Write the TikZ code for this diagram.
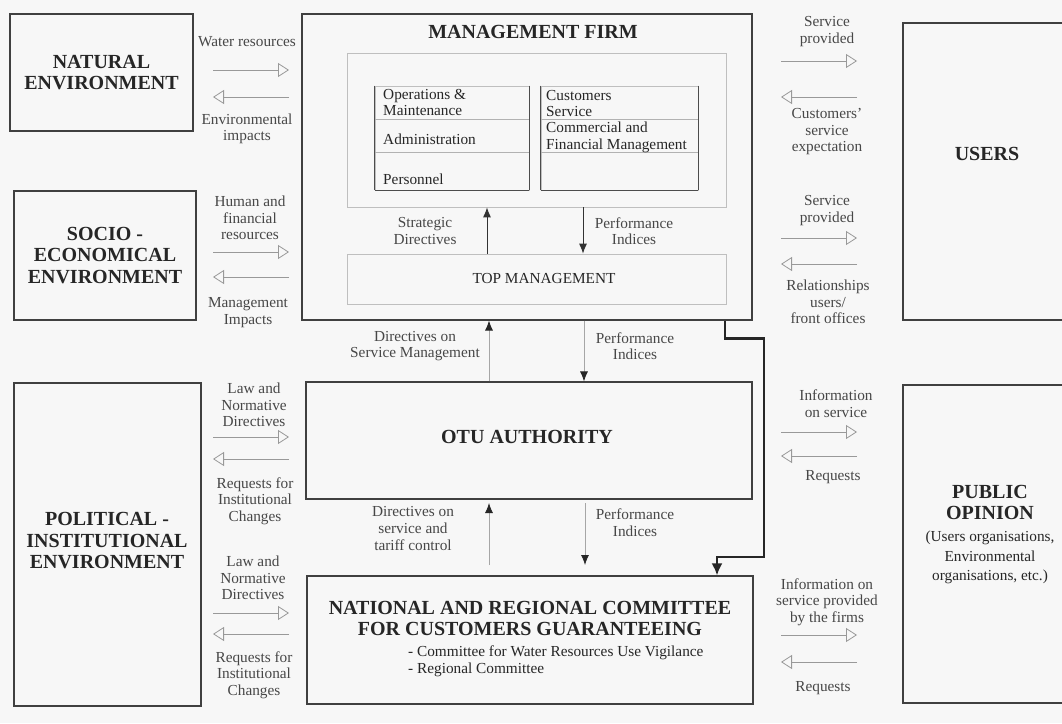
\documentclass[tikz,border=0pt]{standalone}
\usepackage{fontspec}
\setmainfont{Liberation Serif}
\usetikzlibrary{arrows.meta,calc}
\begin{document}
\begin{tikzpicture}[x=1pt,y=-1pt,
  every node/.style={text=black!85, font=\fontsize{15.3}{16.5}\selectfont},
  title/.style={font=\fontsize{20}{21.5}\selectfont\bfseries, align=center, text=black!85},
  lbl/.style={align=center, text=black!72, inner sep=0pt},
  box/.style={draw=black!75, line width=1.1pt, inner sep=0pt},
  lightbox/.style={draw=black!25, line width=0.7pt, inner sep=0pt},
  cell/.style={anchor=west, align=left, inner sep=0pt},
  flow/.style={draw=black!40, line width=0.8pt, -{Triangle[open,length=11pt,width=14pt]}},
  vdark/.style={draw=black!80, line width=1pt, -{Latex[length=10pt,width=8pt]}},
  vlight/.style={draw=black!35, line width=0.8pt, -{Latex[length=10pt,width=8pt,color=black!85]}},
  heavy/.style={draw=black!85, line width=2.6pt, -{Latex[length=12pt,width=11pt]}},
]
\fill[black!3] (0,0) rectangle (1062,723);
\useasboundingbox (0,0) rectangle (1062,723);

% ---------------- left environment boxes
\node[box, minimum width=183pt, minimum height=117pt] (nat) at (101.5,72.5) {};
\node[title] (natt) at (nat.center) {NATURAL\\ENVIRONMENT};
\node[box, minimum width=182pt, minimum height=129pt] (soc) at (105,255.5) {};
\node[title] (soct) at (soc.center) {SOCIO -\\ECONOMICAL\\ENVIRONMENT};
\node[box, minimum width=187pt, minimum height=323pt] (pol) at (107.5,544.5) {};
\node[title] (polt) at (107,541) {POLITICAL -\\INSTITUTIONAL\\ENVIRONMENT};

% ---------------- management firm
\node[box, minimum width=450pt, minimum height=306pt] (mf) at (527,167) {};
\node[title] (mft) at (533,32) {MANAGEMENT FIRM};
\node[lightbox, minimum width=379pt, minimum height=154pt] (inner) at (536.5,130) {};
\node[lightbox, minimum width=379pt, minimum height=50pt] (tm) at (536.5,279) {};
\node (tmt) at (544,279) {TOP MANAGEMENT};

% sub tables
\node[lightbox, minimum width=154pt, minimum height=104pt] (tl) at (452,138) {};
\node[lightbox, minimum width=157pt, minimum height=104pt] (tr) at (619.5,138) {};
\draw[black!70, line width=1pt] (tl.north west) -- (tl.south west) (tl.north east) -- (tl.south east)
  (tr.north west) -- (tr.south west) (tr.north east) -- (tr.south east);
\draw[black!70, line width=0.8pt] (tl.south west) -- (tl.south east) (tr.south west) -- (tr.south east);
\draw[black!30, line width=0.7pt] (375,119) -- (529,119) (375,152) -- (529,152)
  (541,119) -- (698,119) (541,152) -- (698,152);
\node[cell] (om) at (383,102.5) {Operations \&\\Maintenance};
\node[cell] (adm) at (383,139) {Administration};
\node[cell] (per) at (383,179) {Personnel};
\node[cell] (cs) at (546,103.5) {Customers\\Service};
\node[cell] (cfm) at (546,137.5) {Commercial and\\Financial Management};

\draw[vdark] ([xshift=-49.5pt]tm.north) -- ([xshift=-49.5pt]inner.south);
\draw[vdark] ([xshift=46.5pt]inner.south) -- ([xshift=46.5pt]tm.north);
\node[lbl] (sdl) at (425,231) {Strategic\\Directives};
\node[lbl] (pil) at (634,231) {Performance\\Indices};

% ---------------- OTU authority
\node[box, minimum width=446pt, minimum height=117pt] (otu) at (529,440.5) {};
\node[title] (otut) at (527,437) {OTU AUTHORITY};
\draw[vlight] ([xshift=-40pt]otu.north) -- ([xshift=-38pt]mf.south);
\draw[vlight] ([xshift=57pt]mf.south) -- ([xshift=55pt]otu.north);
\node[lbl] (dsm) at (415,346) {Directives on\\Service Management};
\node[lbl] (pi2) at (635,346) {Performance\\Indices};

% ---------------- national committee
\node[box, minimum width=446pt, minimum height=128pt] (nat2) at (530,640) {};
\node[title] (nat2t) at (530,618.5) {NATIONAL AND REGIONAL COMMITTEE\\FOR CUSTOMERS GUARANTEEING};
\node[cell, anchor=north west] (bul) at (408,646) {- Committee for Water Resources Use Vigilance\\- Regional Committee};
\coordinate (ou) at (489,565);
\coordinate (ot) at (489,503);
\draw[vlight] (ou) -- (ot);
\coordinate (od1) at (585,503);
\coordinate (od2) at (585,565);
\draw[vlight] (od1) -- (od2);
\node[lbl] (dst) at (413,528.5) {Directives on\\service and\\tariff control};
\node[lbl] (pi3) at (635,522.5) {Performance\\Indices};

% heavy connector
\coordinate (hb1) at (764,557);
\draw[heavy] ([xshift=198pt]mf.south) -- ++(0,18) -| (hb1) -| ([xshift=187pt]nat2.north);

% ---------------- right boxes (open on the right edge)
\begin{scope}
\clip (0,0) rectangle (1062,723);
\node[box, minimum width=180pt, minimum height=297pt] (users) at (993,171.5) {};
\node[box, minimum width=180pt, minimum height=318pt] (pub) at (993,544) {};
\end{scope}
\node[title] (usert) at (987,154) {USERS};
\node[title] (pubt) at (990,502.5) {PUBLIC\\OPINION};
\node[align=center, font=\fontsize{15.3}{19.5}\selectfont] (pubs) at (990,557.5) {(Users organisations,\\Environmental\\organisations, etc.)};

% ---------------- left flows
\coordinate (l1a) at (213,70);  \coordinate (l1b) at (289,70);
\coordinate (l2a) at (213,97);  \coordinate (l2b) at (289,97);
\draw[flow] (l1a) -- (l1b);
\draw[flow] (l2b) -- (l2a);
\node[lbl] (wr) at (247,42) {Water resources};
\node[lbl] (ei) at (247,129) {Environmental\\impacts};

\coordinate (l3a) at (213,252); \coordinate (l3b) at (289,252);
\coordinate (l4a) at (213,277); \coordinate (l4b) at (289,277);
\draw[flow] (l3a) -- (l3b);
\draw[flow] (l4b) -- (l4a);
\node[lbl] (hfr) at (250,218) {Human and\\financial\\resources};
\node[lbl] (mi) at (248,312.5) {Management\\Impacts};

\coordinate (l5a) at (213,437); \coordinate (l5b) at (289,437);
\coordinate (l6a) at (213,459); \coordinate (l6b) at (289,459);
\draw[flow] (l5a) -- (l5b);
\draw[flow] (l6b) -- (l6a);
\node[lbl] (lnd1) at (254,405) {Law and\\Normative\\Directives};
\node[lbl] (ric1) at (255,501) {Requests for\\Institutional\\Changes};

\coordinate (l7a) at (213,613); \coordinate (l7b) at (289,613);
\coordinate (l8a) at (213,634); \coordinate (l8b) at (289,634);
\draw[flow] (l7a) -- (l7b);
\draw[flow] (l8b) -- (l8a);
\node[lbl] (lnd2) at (253,578) {Law and\\Normative\\Directives};
\node[lbl] (ric2) at (254,675) {Requests for\\Institutional\\Changes};

% ---------------- right flows
\coordinate (r1a) at (781,61);  \coordinate (r1b) at (857,61);
\coordinate (r2a) at (781,97);  \coordinate (r2b) at (857,97);
\draw[flow] (r1a) -- (r1b);
\draw[flow] (r2b) -- (r2a);
\node[lbl] (sp1) at (827,31.5) {Service\\provided};
\node[lbl] (cse) at (827,132) {Customers'\\service\\expectation};

\coordinate (r3a) at (781,238); \coordinate (r3b) at (857,238);
\coordinate (r4a) at (781,264); \coordinate (r4b) at (857,264);
\draw[flow] (r3a) -- (r3b);
\draw[flow] (r4b) -- (r4a);
\node[lbl] (sp2) at (827,210.5) {Service\\provided};
\node[lbl] (rel) at (828,302) {Relationships\\users/\\front offices};

\coordinate (r5a) at (781,432); \coordinate (r5b) at (857,432);
\coordinate (r6a) at (781,456); \coordinate (r6b) at (857,456);
\draw[flow] (r5a) -- (r5b);
\draw[flow] (r6b) -- (r6a);
\node[lbl] (ios) at (836,403.5) {Information\\on service};
\node[lbl] (req1) at (833,477) {Requests};

\coordinate (r7a) at (781,635); \coordinate (r7b) at (857,635);
\coordinate (r8a) at (781,662); \coordinate (r8b) at (857,662);
\draw[flow] (r7a) -- (r7b);
\draw[flow] (r8b) -- (r8a);
\node[lbl] (iosp) at (827,602) {Information on\\service provided\\by the firms};
\node[lbl] (req2) at (823,688) {Requests};
\end{tikzpicture}
\end{document}
